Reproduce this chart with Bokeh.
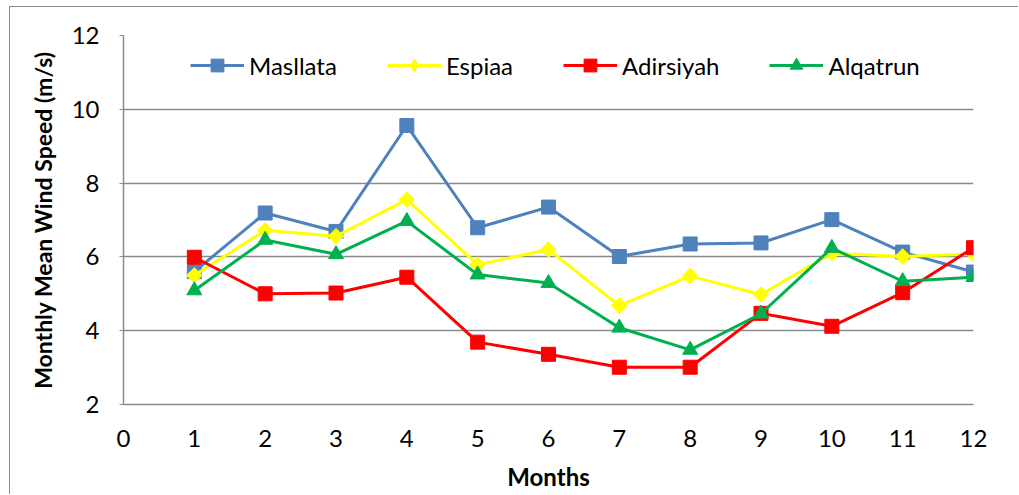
import math
from bokeh.plotting import figure
from bokeh.models import Range1d, FixedTicker, Legend, LegendItem
from bokeh.embed import file_html
from bokeh.resources import INLINE

months = [1, 2, 3, 4, 5, 6, 7, 8, 9, 10, 11, 12]
masllata = [5.60, 7.19, 6.69, 9.56, 6.79, 7.35, 6.01, 6.35, 6.38, 7.01, 6.13, 5.59]
espiaa = [5.50, 6.72, 6.56, 7.55, 5.79, 6.20, 4.68, 5.48, 4.98, 6.10, 6.01, 6.08]
adirsiyah = [5.99, 5.00, 5.02, 5.45, 3.69, 3.36, 3.01, 3.01, 4.47, 4.12, 5.03, 6.25]
alqatrun = [5.09, 6.46, 6.07, 6.97, 5.52, 5.29, 4.08, 3.48, 4.46, 6.24, 5.34, 5.45]
names = ["Masllata", "Espiaa", "Adirsiyah", "Alqatrun"]
colors = ["#4F81BD", "#FFFF00", "#FF0000", "#00B050"]
markers = ["square", "diamond", "square", "triangle"]
x_ticks = [0, 1, 2, 3, 4, 5, 6, 7, 8, 9, 10, 11, 12]
y_ticks = [2, 4, 6, 8, 10, 12]

FONT = "Lato"

p = figure(frame_width=850, frame_height=369, output_backend="svg",
           toolbar_location=None, x_range=Range1d(0, 12), y_range=Range1d(2, 12),
           min_border_left=113, min_border_top=28, min_border_right=46,
           min_border_bottom=91)
p.margin = (7, 0, 0, 10)
p.styles = {"box-shadow": "-1px -1px 0 0 #8c8c8c"}
p.outline_line_color = None

p.xgrid.grid_line_color = None
p.ygrid.grid_line_color = "#8a8a8a"
p.ygrid.grid_line_width = 1.5

p.xaxis.ticker = FixedTicker(ticks=x_ticks)
p.yaxis.ticker = FixedTicker(ticks=y_ticks)
for ax in (p.xaxis[0], p.yaxis[0]):
    ax.axis_line_color = "#8a8a8a"
    ax.axis_line_width = 1.5
    ax.major_tick_line_color = "#8a8a8a"
    ax.minor_tick_line_color = None
    ax.major_tick_in = 0
    ax.major_label_text_font = FONT
    ax.major_label_text_font_size = "24px"
    ax.major_label_text_color = "#000000"
    ax.axis_label_text_font = FONT
    ax.axis_label_text_font_style = "bold"
    ax.axis_label_text_color = "#000000"

p.xaxis.major_tick_out = 0
p.xaxis.major_label_standoff = 25
p.xaxis.axis_label = "Months"
p.xaxis.axis_label_text_font_size = "24px"
p.xaxis.axis_label_standoff = 12
p.yaxis.major_tick_out = 4
p.yaxis.major_label_standoff = 20
p.yaxis.axis_label = "Monthly Mean Wind Speed (m/s)"
p.yaxis.axis_label_text_font_size = "23px"
p.yaxis.axis_label_standoff = 12

items = []
for name, ys, c, m in zip(names, [masllata, espiaa, adirsiyah, alqatrun], colors, markers):
    ln = p.line(months, ys, line_color=c, line_width=3)
    if m == "diamond":
        # a square turned 45 degrees gives the wide diamond of the reference
        p.scatter(months, ys, marker="square", angle=math.pi / 4, size=11,
                  fill_color=c, line_color=c)
        # legend key only: one point outside the visible ranges
        key = p.scatter([-10], [-10], marker="diamond", size=12, fill_color=c, line_color=c)
    else:
        size = 15 if m == "triangle" else 14
        key = p.scatter(months, ys, marker=m, size=size, fill_color=c, line_color=c)
    items.append(LegendItem(label=name, renderers=[ln, key]))

legend = Legend(items=items, orientation="horizontal", location=(67, 323),
                label_text_font=FONT, label_text_font_size="24px",
                label_text_color="#000000", glyph_width=54, glyph_height=32,
                label_height=24, label_standoff=5, spacing=50, padding=0,
                margin=0, border_line_color=None, background_fill_alpha=0)
p.add_layout(legend)

open("out.html", "w").write(file_html(p, INLINE))
